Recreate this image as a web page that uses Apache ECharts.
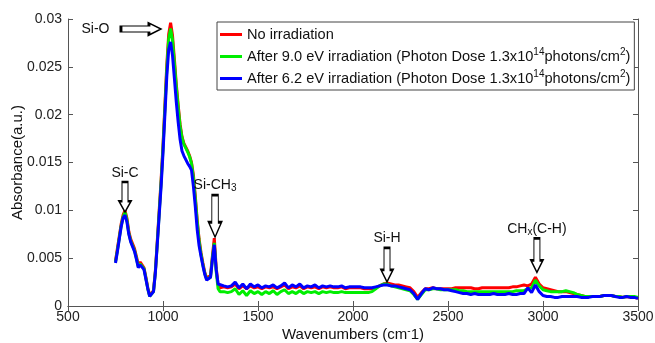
<!DOCTYPE html>
<html><head><meta charset="utf-8">
<script src="https://cdn.jsdelivr.net/npm/echarts@6/dist/echarts.min.js"></script>
<style>html,body{margin:0;padding:0;background:#fff}#c{width:655px;height:343px}</style>
</head><body><div id="c"></div>
<script>
// Wavenumber grid (cm^-1)
const wavenumbers = [
750,760,770,780,790,800,810,820,830,840,850,860,870,880,890,900,910,920,930,940,
950,960,970,980,990,1000,1010,1020,1030,1040,1050,1060,1070,1080,1090,1100,1110,1120,1130,1140,
1150,1160,1170,1180,1190,1200,1210,1220,1230,1240,1250,1260,1270,1280,1290,1300,
1320,1340,1360,1380,1400,1420,1440,1460,1480,1500,1520,1540,1560,1580,1600,1620,1640,1660,1680,1700,
1720,1740,1760,1780,1800,1820,1840,1860,1880,1900,1920,1940,1960,1980,2000,2020,2040,2060,2080,2100,
2120,2140,2160,2180,2200,2220,2240,2260,2280,2300,2320,2340,2360,2380,2400,2420,2440,2460,2480,2500,
2520,2540,2560,2580,2600,2620,2640,2660,2680,2700,2720,2740,2760,2780,2800,2820,2840,2860,2880,2900,
2920,2940,2960,2980,3000,3020,3040,3060,3080,3100,3120,3140,3160,3180,3200,3220,3240,3260,3280,3300,
3320,3340,3360,3380,3400,3420,3440,3460,3480,3500];

const noIrradiation = [
0.0047,0.0060,0.0073,0.0086,0.0095,0.0100,0.0092,0.0078,0.0070,0.0065,0.0060,0.0052,0.0043,0.0046,0.0046,0.0040,0.0030,0.0019,0.0011,0.0009,
0.0016,0.0037,0.0068,0.0100,0.0132,0.0168,0.0210,0.0252,0.0284,0.0296,0.0283,0.0258,0.0232,0.0210,0.0190,0.0177,0.0170,0.0166,0.0162,0.0157,
0.0150,0.0137,0.0115,0.0090,0.0070,0.0056,0.0045,0.0035,0.0029,0.0027,0.0032,0.0052,0.0071,0.0040,0.0022,0.0019,
0.0020,0.0019,0.0020,0.0023,0.0018,0.0021,0.0018,0.0021,0.0019,0.0020,0.0018,0.0020,0.0019,0.0020,0.0018,0.0020,0.0022,0.0018,0.0020,0.0019,
0.0021,0.0018,0.0020,0.0019,0.0020,0.0018,0.0020,0.0019,0.0020,0.0019,0.0019,0.0020,0.0018,0.0019,0.0019,0.0019,0.0019,0.0018,0.0018,0.0018,
0.0019,0.0021,0.0023,0.0024,0.0023,0.0022,0.0022,0.0021,0.0020,0.0019,0.0015,0.0009,0.0014,0.0018,0.0018,0.0019,0.0018,0.0018,0.0018,0.0018,
0.0018,0.0019,0.0019,0.0019,0.0019,0.0019,0.0018,0.0018,0.0019,0.0019,0.0019,0.0019,0.0019,0.0019,0.0019,0.0019,0.0020,0.0020,0.0021,0.0022,
0.0021,0.0023,0.0030,0.0023,0.0019,0.0018,0.0017,0.0016,0.0015,0.0015,0.0015,0.0014,0.0013,0.0012,0.0011,0.0010,0.0010,0.0010,0.0010,0.0010,
0.0011,0.0011,0.0011,0.0010,0.0010,0.0009,0.0010,0.0009,0.0009,0.0008];

const after90eV = [
0.0046,0.0058,0.0071,0.0084,0.0093,0.0098,0.0090,0.0076,0.0068,0.0063,0.0058,0.0050,0.0041,0.0044,0.0045,0.0039,0.0029,0.0018,0.0010,0.0008,
0.0015,0.0036,0.0066,0.0097,0.0129,0.0165,0.0206,0.0248,0.0279,0.0290,0.0278,0.0254,0.0229,0.0207,0.0188,0.0176,0.0169,0.0165,0.0161,0.0156,
0.0149,0.0134,0.0112,0.0088,0.0068,0.0054,0.0043,0.0034,0.0028,0.0026,0.0030,0.0050,0.0066,0.0036,0.0018,0.0015,
0.0015,0.0014,0.0015,0.0018,0.0012,0.0016,0.0011,0.0016,0.0013,0.0015,0.0012,0.0015,0.0013,0.0016,0.0012,0.0015,0.0017,0.0013,0.0015,0.0013,
0.0016,0.0013,0.0015,0.0014,0.0015,0.0013,0.0015,0.0014,0.0015,0.0014,0.0014,0.0015,0.0014,0.0014,0.0014,0.0014,0.0014,0.0014,0.0014,0.0015,
0.0018,0.0021,0.0023,0.0023,0.0021,0.0020,0.0019,0.0018,0.0017,0.0016,0.0012,0.0007,0.0012,0.0017,0.0017,0.0018,0.0018,0.0017,0.0017,0.0017,
0.0017,0.0017,0.0016,0.0016,0.0015,0.0015,0.0015,0.0015,0.0015,0.0015,0.0015,0.0015,0.0015,0.0015,0.0015,0.0015,0.0015,0.0016,0.0016,0.0016,
0.0018,0.0019,0.0027,0.0021,0.0017,0.0016,0.0015,0.0015,0.0015,0.0015,0.0016,0.0015,0.0014,0.0012,0.0011,0.0010,0.0010,0.0010,0.0010,0.0010,
0.0011,0.0011,0.0011,0.0010,0.0010,0.0009,0.0010,0.0010,0.0010,0.0009];

const after62eV = [
0.0045,0.0057,0.0070,0.0083,0.0092,0.0095,0.0088,0.0075,0.0067,0.0062,0.0057,0.0049,0.0040,0.0043,0.0044,0.0038,0.0028,0.0018,0.0010,0.0008,
0.0015,0.0035,0.0065,0.0095,0.0125,0.0160,0.0200,0.0240,0.0268,0.0276,0.0262,0.0238,0.0213,0.0192,0.0174,0.0162,0.0157,0.0153,0.0149,0.0146,
0.0142,0.0125,0.0104,0.0080,0.0063,0.0052,0.0042,0.0033,0.0027,0.0025,0.0030,0.0048,0.0064,0.0038,0.0023,0.0022,
0.0021,0.0020,0.0021,0.0025,0.0019,0.0023,0.0018,0.0023,0.0020,0.0022,0.0019,0.0021,0.0020,0.0022,0.0019,0.0021,0.0024,0.0019,0.0022,0.0020,
0.0023,0.0019,0.0021,0.0020,0.0022,0.0019,0.0021,0.0020,0.0021,0.0020,0.0020,0.0021,0.0019,0.0020,0.0020,0.0020,0.0020,0.0019,0.0019,0.0019,
0.0020,0.0021,0.0022,0.0022,0.0021,0.0021,0.0020,0.0019,0.0018,0.0017,0.0013,0.0007,0.0013,0.0018,0.0017,0.0019,0.0018,0.0018,0.0017,0.0017,
0.0016,0.0015,0.0014,0.0013,0.0013,0.0012,0.0013,0.0012,0.0012,0.0012,0.0012,0.0013,0.0012,0.0012,0.0012,0.0013,0.0012,0.0012,0.0013,0.0013,
0.0019,0.0014,0.0022,0.0015,0.0011,0.0010,0.0010,0.0009,0.0009,0.0010,0.0010,0.0010,0.0010,0.0010,0.0009,0.0009,0.0009,0.0010,0.0010,0.0010,
0.0011,0.0011,0.0011,0.0010,0.0009,0.0009,0.0010,0.0009,0.0009,0.0008];

const seriesNames = [
  'No irradiation',
  'After 9.0 eV irradiation (Photon Dose 1.3x10^14photons/cm^2)',
  'After 6.2 eV irradiation (Photon Dose 1.3x10^14photons/cm^2)'
];
const seriesColors = ['#ff0000', '#00ee00', '#0000ff'];
const xTicks = [500, 1000, 1500, 2000, 2500, 3000, 3500];
const yTicks = [0, 0.005, 0.01, 0.015, 0.02, 0.025, 0.03];

// annotation anchors
const annotations = [
  {name: 'Si-O', wn: 884, y: 0.02895, dir: 'right'},
  {name: 'Si-C', wn: 800, y: 0.0114, dir: 'down', size: [12, 30]},
  {name: 'Si-CH{sub|3}', wn: 1274, y: 0.0094, dir: 'down', size: [13, 42]},
  {name: 'Si-H', wn: 2179, y: 0.0043, dir: 'down', size: [12, 34]},
  {name: 'CH{sub|x}(C-H)', wn: 2968, y: 0.0053, dir: 'down', size: [12, 34]}
];

const FONT = '"Liberation Sans", Arial, sans-serif';
const chart = echarts.init(document.getElementById('c'));
const pair = arr => wavenumbers.map((w, i) => [w, arr[i]]);
const values = [noIrradiation, after90eV, after62eV];

const arrowDown = 'path://M3,0 L9,0 L9,22 L12,22 L6,34 L0,22 L3,22 Z';
const arrowRight = 'path://M0,3 L28,3 L28,0 L40,6 L28,12 L28,9 L0,9 Z';
const richSub = {sub: {fontSize: 10, verticalAlign: 'bottom', lineHeight: 10, fontFamily: FONT, color: '#111'}};

const markData = annotations.map(a => ({
  coord: [a.wn, a.y],
  symbol: a.dir === 'right' ? arrowRight : arrowDown,
  symbolSize: a.dir === 'right' ? [40, 12] : a.size,
  itemStyle: {color: '#fff', borderColor: '#000', borderWidth: 1.6},
  label: {
    show: true,
    position: a.dir === 'right' ? 'left' : 'top',
    distance: a.dir === 'right' ? 10 : 0,
    formatter: a.name,
    color: '#111', fontSize: 14, fontFamily: FONT, lineHeight: 16,
    rich: richSub
  }
}));

const axisColor = '#555';
const option = {
  animation: false,
  backgroundColor: '#fff',
  textStyle: {fontFamily: FONT},
  grid: {left: 68, right: 17, top: 19, bottom: 37, outerBoundsMode: 'none', containLabel: false},
  legend: {
    orient: 'vertical', left: 217, top: 22,
    data: seriesNames.map(n => ({name: n, icon: 'rect'})),
    itemWidth: 22, itemHeight: 3, itemGap: 3,
    padding: [3, 4, 2, 3],
    backgroundColor: '#fff', borderColor: '#444', borderWidth: 1,
    formatter: n => n.replace('^14', '{sup|14}').replace('^2', '{sup|2}'),
    textStyle: {
      fontSize: 14.6, color: '#111', fontFamily: FONT, lineHeight: 19,
      rich: {sup: {fontSize: 10, verticalAlign: 'top', lineHeight: 9, fontFamily: FONT, color: '#111'}}
    }
  },
  xAxis: [
    {type: 'value', min: xTicks[0], max: xTicks[xTicks.length - 1], interval: 500,
     name: 'Wavenumbers (cm{sup|-}1)', nameLocation: 'middle', nameGap: 20, nameMoveOverlap: false,
     nameTextStyle: {fontSize: 15, color: '#111', fontFamily: FONT, lineHeight: 17,
       rich: {sup: {fontSize: 10, verticalAlign: 'top', lineHeight: 8, fontFamily: FONT, color: '#111'}}},
     axisLine: {lineStyle: {color: axisColor}},
     axisTick: {inside: true, length: 5, lineStyle: {color: axisColor}},
     axisLabel: {color: '#222', fontSize: 14, margin: 4, fontFamily: FONT, formatter: v => String(v)},
     splitLine: {show: false}},
    {type: 'value', position: 'top', min: xTicks[0], max: xTicks[xTicks.length - 1], interval: 500,
     axisLine: {lineStyle: {color: axisColor}},
     axisTick: {inside: true, length: 5, lineStyle: {color: axisColor}},
     axisLabel: {show: false}, splitLine: {show: false}}
  ],
  yAxis: [
    {type: 'value', min: yTicks[0], max: yTicks[yTicks.length - 1], interval: 0.005,
     name: 'Absorbance(a.u.)', nameLocation: 'middle', nameGap: 43, nameRotate: 90, nameMoveOverlap: false,
     nameTextStyle: {fontSize: 15, color: '#111', fontFamily: FONT},
     axisLine: {show: true, lineStyle: {color: axisColor}},
     axisTick: {show: true, inside: true, length: 5, lineStyle: {color: axisColor}},
     axisLabel: {color: '#222', fontSize: 14, margin: 6, fontFamily: FONT, formatter: v => String(v)},
     splitLine: {show: false}},
    {type: 'value', position: 'right', min: yTicks[0], max: yTicks[yTicks.length - 1], interval: 0.005,
     axisLine: {show: true, lineStyle: {color: axisColor}},
     axisTick: {show: true, inside: true, length: 5, lineStyle: {color: axisColor}},
     axisLabel: {show: false}, splitLine: {show: false}}
  ],
  series: seriesNames.map((n, i) => ({
    name: n, type: 'line', data: pair(values[i]),
    showSymbol: false, symbol: 'none',
    lineStyle: {color: seriesColors[i], width: 3},
    itemStyle: {color: seriesColors[i]},
    z: 2 + i,
    markPoint: i === 2 ? {data: markData, silent: true, z: 10} : undefined
  }))
};
chart.setOption(option);
</script></body></html>
